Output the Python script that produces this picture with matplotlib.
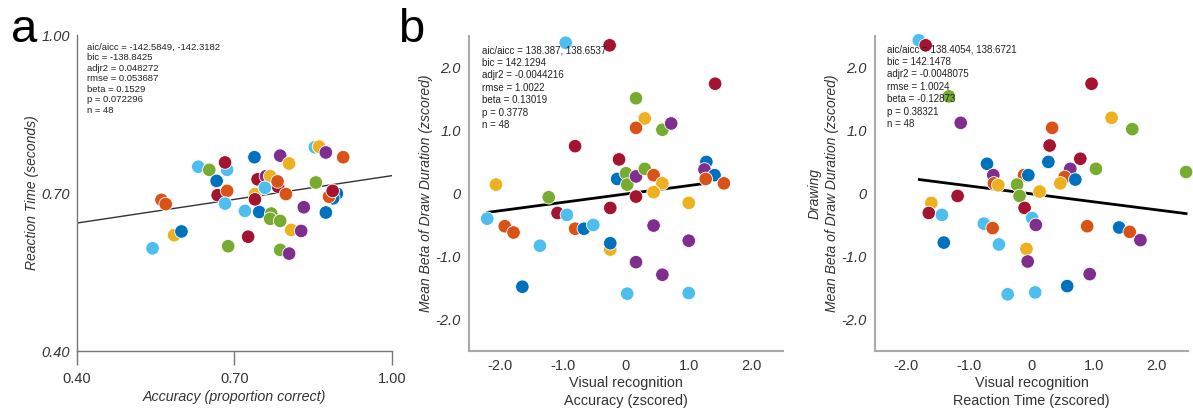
import numpy as np
import matplotlib
matplotlib.use("Agg")
import matplotlib.pyplot as plt

plt.rcParams['font.family'] = ['Liberation Sans', 'DejaVu Sans']

# MATLAB-style palette
C = {'bl': '#0072BD', 'or': '#D95319', 'ye': '#EDB120', 'pu': '#7E2F8E',
     'gr': '#77AC30', 'lb': '#4DBEEE', 'dr': '#A2142F'}

# --- panel a: accuracy vs reaction time ---
a_x = [0.544, 0.585, 0.599, 0.561, 0.569, 0.631, 0.652, 0.686, 0.682, 0.666,
       0.668, 0.686, 0.682, 0.688, 0.726, 0.720, 0.747, 0.770, 0.768, 0.787,
       0.739, 0.739, 0.744, 0.760, 0.768, 0.758, 0.783, 0.782, 0.798, 0.738,
       0.787, 0.804, 0.808, 0.827, 0.787, 0.804, 0.832, 0.855, 0.874, 0.853,
       0.861, 0.874, 0.907, 0.895, 0.888, 0.880, 0.887]
a_y = [0.595, 0.620, 0.627, 0.687, 0.679, 0.750, 0.744, 0.744, 0.758, 0.723,
       0.696, 0.704, 0.680, 0.599, 0.617, 0.666, 0.664, 0.661, 0.651, 0.647,
       0.698, 0.688, 0.726, 0.732, 0.732, 0.710, 0.712, 0.722, 0.698, 0.768,
       0.771, 0.756, 0.630, 0.628, 0.592, 0.585, 0.673, 0.720, 0.663, 0.787,
       0.788, 0.777, 0.768, 0.699, 0.690, 0.693, 0.704]
a_c = ['lb', 'ye', 'bl', 'or', 'or', 'lb', 'gr', 'lb', 'dr', 'bl',
       'dr', 'or', 'lb', 'gr', 'dr', 'lb', 'bl', 'gr', 'gr', 'gr',
       'ye', 'dr', 'dr', 'pu', 'ye', 'lb', 'dr', 'or', 'or', 'bl',
       'pu', 'ye', 'ye', 'pu', 'gr', 'pu', 'pu', 'gr', 'bl', 'lb',
       'ye', 'pu', 'or', 'bl', 'bl', 'or', 'dr']
a_fit_x = [0.40, 1.00]
a_fit_y = [0.643, 0.733]
a_stats = ['aic/aicc = -142.5849, -142.3182', 'bic = -138.8425', 'adjr2 = 0.048272',
           'rmse = 0.053687', 'beta = 0.1529', 'p = 0.072296', 'n = 48']

# --- panel b: accuracy (z) vs draw duration beta ---
b_x = [-0.96, -0.26, 1.42, 0.16, 0.30, 0.16, 0.58, 0.72, -0.81, -0.11,
       1.28, 1.25, 1.41, 1.27, 1.56, -0.14, 0.00, 0.02, 0.16, 0.30,
       0.44, 0.58, 0.44, 0.16, 1.00, -2.07, -1.23, -2.21, -1.93, -1.79,
       -1.09, -0.94, -0.81, -0.67, -0.52, -0.25, -0.25, -0.25, -1.37, -1.65,
       0.02, 0.44, 1.00, 0.16, 0.58, 1.00]
b_y = [2.39, 2.35, 1.74, 1.51, 1.19, 1.04, 1.01, 1.11, 0.75, 0.54,
       0.50, 0.38, 0.29, 0.23, 0.16, 0.23, 0.32, 0.14, 0.27, 0.39,
       0.29, 0.16, 0.02, -0.05, -0.15, 0.14, -0.06, -0.40, -0.52, -0.62,
       -0.31, -0.34, -0.56, -0.56, -0.50, -0.23, -0.89, -0.79, -0.83, -1.48,
       -1.59, -0.51, -0.75, -1.09, -1.29, -1.58]
b_c = ['lb', 'dr', 'dr', 'gr', 'ye', 'or', 'gr', 'pu', 'dr', 'dr',
       'bl', 'pu', 'bl', 'or', 'or', 'bl', 'gr', 'gr', 'pu', 'gr',
       'or', 'ye', 'ye', 'dr', 'ye', 'ye', 'gr', 'lb', 'or', 'or',
       'dr', 'lb', 'or', 'bl', 'lb', 'dr', 'ye', 'bl', 'lb', 'bl',
       'lb', 'pu', 'pu', 'pu', 'pu', 'lb']
b_fit_x = [-2.20, 1.27]
b_fit_y = [-0.30, 0.16]
b_stats = ['aic/aicc = 138.387, 138.6537', 'bic = 142.1294', 'adjr2 = -0.0044216',
           'rmse = 1.0022', 'beta = 0.13019', 'p = 0.3778', 'n = 48']

# --- panel c: reaction time (z) vs draw duration beta ---
c_x = [-1.80, -1.69, -1.32, -1.13, 0.96, 1.28, 1.61, 2.47, 0.33, 0.29,
       0.78, 0.27, 0.62, 1.03, -0.71, -0.61, -0.60, -0.53, -0.12, -0.05,
       -0.23, -0.19, 0.13, 0.53, 0.46, 0.70, -1.60, -1.18, -1.64, -1.43,
       -0.11, 0.01, 0.07, -0.76, -0.62, -1.40, -0.52, -0.08, -0.06, 0.89,
       1.40, 1.57, 1.74, 0.93, 0.57, -0.38, 0.06]
c_y = [2.43, 2.35, 1.54, 1.12, 1.74, 1.20, 1.02, 0.34, 1.04, 0.76,
       0.55, 0.50, 0.39, 0.39, 0.47, 0.29, 0.16, 0.13, 0.29, 0.29,
       0.14, -0.04, 0.03, 0.26, 0.16, 0.22, -0.15, -0.04, -0.31, -0.34,
       -0.23, -0.39, -0.50, -0.48, -0.55, -0.78, -0.81, -0.88, -1.08, -0.52,
       -0.54, -0.61, -0.74, -1.28, -1.47, -1.60, -1.57]
c_c = ['lb', 'dr', 'gr', 'pu', 'dr', 'ye', 'gr', 'gr', 'or', 'dr',
       'dr', 'bl', 'pu', 'gr', 'bl', 'pu', 'or', 'ye', 'or', 'bl',
       'gr', 'gr', 'ye', 'or', 'ye', 'bl', 'ye', 'dr', 'dr', 'lb',
       'dr', 'lb', 'pu', 'lb', 'or', 'bl', 'lb', 'ye', 'pu', 'or',
       'bl', 'or', 'pu', 'pu', 'bl', 'lb', 'lb']
c_fit_x = [-1.79, 2.47]
c_fit_y = [0.22, -0.32]
c_stats = ['aic/aicc = 138.4054, 138.6721', 'bic = 142.1478', 'adjr2 = -0.0048075',
           'rmse = 1.0024', 'beta = -0.12873', 'p = 0.38321', 'n = 48']

z_ticks = [-2, -1, 0, 1, 2]
z_labels = ['-2.0', '-1.0', '0', '1.0', '2.0']

fig = plt.figure(figsize=(11.93, 4.12), dpi=100)
ax_a = fig.add_axes([0.0645, 0.148, 0.2641, 0.767])
ax_b = fig.add_axes([0.3931, 0.148, 0.2632, 0.765])
ax_c = fig.add_axes([0.7334, 0.148, 0.2624, 0.765])


def dots(ax, xs, ys, cs):
    ax.scatter(xs, ys, s=95, c=[C[k] for k in cs], edgecolors='white',
               linewidths=0.6, zorder=3, clip_on=False)


def stats_text(ax, lines, x0, y0, step, size):
    for i, s in enumerate(lines):
        ax.text(x0, y0 - i * step, s, transform=ax.transAxes, fontsize=size,
                va='center', ha='left', color='#222222', zorder=4)


# panel a
ax = ax_a
ax.plot(a_fit_x, a_fit_y, color='#333333', lw=1.0, zorder=2)
dots(ax, a_x, a_y, a_c)
ax.set_xlim(0.4, 1.0)
ax.set_ylim(0.4, 1.0)
ax.set_xticks([0.4, 0.7, 1.0])
ax.set_xticklabels(['0.40', '0.70', '1.00'], fontsize=10.5, color='#333333')
ax.set_yticks([0.4, 0.7, 1.0])
ax.set_yticklabels(['0.40', '0.70', '1.00'], fontsize=10.5, style='italic',
                   color='#333333')
ax.tick_params(axis='x', length=10, width=1, color='#777777', pad=5)
ax.tick_params(axis='y', length=0, pad=5)
for sp in ['top', 'right']:
    ax.spines[sp].set_visible(False)
for sp in ['left', 'bottom']:
    ax.spines[sp].set_color('#777777')
    ax.spines[sp].set_linewidth(1)
ax.set_xlabel('Accuracy (proportion correct)', fontsize=10.3, style='italic',
              color='#333333', labelpad=3)
ax.set_ylabel('Reaction Time (seconds)', fontsize=10, style='italic',
              color='#333333', labelpad=2)
stats_text(ax, a_stats, 0.032, 0.962, 10.5 / 316, 6.8)

# panels b and c
for ax, xs, ys, cs, fx, fy, st, xl, yl, tx, ty in [
        (ax_b, b_x, b_y, b_c, b_fit_x, b_fit_y, b_stats,
         'Visual recognition\nAccuracy (zscored)',
         'Mean Beta of Draw Duration (zscored)', 0.041, 0.955),
        (ax_c, c_x, c_y, c_c, c_fit_x, c_fit_y, c_stats,
         'Visual recognition\nReaction Time (zscored)',
         'Drawing\nMean Beta of Draw Duration (zscored)', 0.038, 0.958)]:
    ax.plot(fx, fy, color='black', lw=2.0, zorder=2)
    dots(ax, xs, ys, cs)
    ax.set_xlim(-2.5, 2.5)
    ax.set_ylim(-2.5, 2.5)
    ax.set_xticks(z_ticks)
    ax.set_xticklabels(z_labels, fontsize=10.5)
    ax.set_yticks(z_ticks)
    ax.set_yticklabels(z_labels, fontsize=10.5, style='italic')
    ax.tick_params(length=0, pad=6, colors='#333333')
    for sp in ['top', 'right']:
        ax.spines[sp].set_visible(False)
    for sp in ['left', 'bottom']:
        ax.spines[sp].set_color('#aaaaaa')
        ax.spines[sp].set_linewidth(1.5)
    ax.set_xlabel(xl, fontsize=10.4, color='#333333', labelpad=2, linespacing=1.35)
    ax.set_ylabel(yl, fontsize=10, style='italic', color='#333333', labelpad=2,
                  linespacing=1.25)
    stats_text(ax, st, tx, ty, 12.5 / 315, 7.0)

fig.text(0.009, 0.898, 'a', fontsize=34, va='baseline', ha='left')
fig.text(0.334, 0.898, 'b', fontsize=34, va='baseline', ha='left')

fig.savefig('out.png', dpi=100)
